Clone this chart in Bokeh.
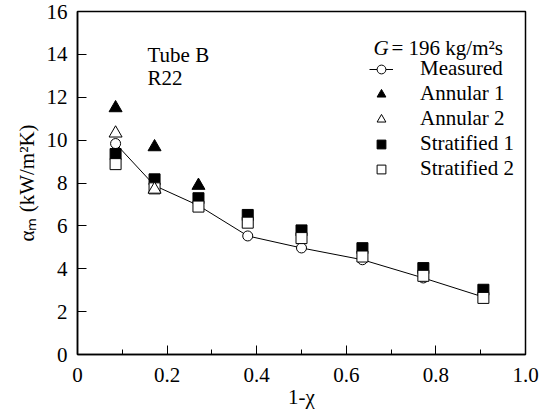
from bokeh.plotting import figure
from bokeh.models import Range1d, FixedTicker, Label, Legend, LegendItem, Title
from bokeh.embed import file_html
from bokeh.resources import INLINE

# ---- data ----
x_quality = [0.085, 0.172, 0.27, 0.38, 0.5, 0.636, 0.772, 0.906]
measured = [9.84, 7.88, 6.95, 5.53, 4.97, 4.42, 3.57, 2.68]
stratified1 = [9.35, 8.17, 7.29, 6.51, 5.79, 4.96, 4.03, 3.02]
stratified2 = [8.88, 7.75, 6.90, 6.15, 5.43, 4.57, 3.67, 2.64]
x_annular1 = [0.085, 0.172, 0.27]
annular1 = [11.5, 9.68, 7.88]
x_annular2 = [0.085, 0.172]
annular2 = [10.32, 7.70]

x_ticks = [0, 0.2, 0.4, 0.6, 0.8, 1.0]
x_tick_labels = ["0", "0.2", "0.4", "0.6", "0.8", "1.0"]
x_minor_ticks = [0.1, 0.3, 0.5, 0.7, 0.9]
y_ticks = [0, 2, 4, 6, 8, 10, 12, 14, 16]

FONT = "'Liberation Serif', 'Times New Roman', serif"
FS = "21px"

p = figure(width=539, height=414, x_range=Range1d(0, 1), y_range=Range1d(0, 16),
           output_backend="svg", toolbar_location=None,
           min_border_left=77, min_border_right=14, min_border_top=11, min_border_bottom=60)
p.background_fill_color = "white"
p.border_fill_color = "white"
p.outline_line_color = "black"
p.outline_line_width = 1.5
p.xgrid.visible = False
p.ygrid.visible = False

for ax in (p.xaxis, p.yaxis):
    ax.axis_line_width = 1.5
    ax.axis_line_color = "black"
    ax.major_tick_line_color = "black"
    ax.minor_tick_line_color = "black"
    ax.major_tick_in = 9
    ax.major_tick_out = 0
    ax.major_label_text_font = FONT
    ax.major_label_text_font_size = FS
    ax.major_label_text_color = "black"

p.xaxis.ticker = FixedTicker(ticks=x_ticks, minor_ticks=x_minor_ticks)
p.xaxis.major_label_overrides = {t: l for t, l in zip(x_ticks, x_tick_labels)}
p.xaxis.minor_tick_in = 5
p.xaxis.minor_tick_out = 0
p.xaxis.major_label_standoff = 13
p.xaxis.axis_label = "1-χ"
p.xaxis.axis_label_text_font = FONT
p.xaxis.axis_label_text_font_size = FS
p.xaxis.axis_label_text_font_style = "normal"
p.xaxis.axis_label_text_color = "black"
p.xaxis.axis_label_standoff = 0

p.yaxis.ticker = FixedTicker(ticks=y_ticks, minor_ticks=[])
p.yaxis.minor_tick_line_color = None
p.yaxis.major_label_standoff = 10

# y-axis title (left panel, shifted upward like the reference)
p.add_layout(Title(text="αₘ (kW/m²K)", align="center", offset=45,
                   text_font=FONT, text_font_size=FS, text_font_style="normal",
                   text_color="black"), "left")

# ---- data marks ----
r_line = p.line(x_quality, measured, line_color="black", line_width=1)
r_meas = p.scatter(x_quality, measured, marker="circle", size=10,
                   fill_color="white", line_color="black", line_width=1)
r_s1 = p.scatter(x_quality, stratified1, marker="square", size=11,
                 fill_color="black", line_color="black", line_width=1)
r_s2 = p.scatter(x_quality, stratified2, marker="square", size=11,
                 fill_color="white", line_color="black", line_width=1)
r_a1 = p.scatter(x_annular1, annular1, marker="triangle", size=13,
                 fill_color="black", line_color="black", line_width=1)
r_a2 = p.scatter(x_annular2, annular2, marker="triangle", size=13,
                 fill_color="white", line_color="black", line_width=1)

legend = Legend(items=[
    LegendItem(label="Measured", renderers=[r_line, r_meas]),
    LegendItem(label="Annular 1", renderers=[r_a1]),
    LegendItem(label="Annular 2", renderers=[r_a2]),
    LegendItem(label="Stratified 1", renderers=[r_s1]),
    LegendItem(label="Stratified 2", renderers=[r_s2]),
], location=(292, 173), padding=0, margin=0, spacing=-1,
    glyph_width=24, glyph_height=22, label_height=22, label_standoff=27,
    label_text_font=FONT, label_text_font_size=FS, label_text_color="black",
    label_text_line_height=1.0,
    border_line_color=None, background_fill_alpha=0)
p.add_layout(legend, "center")

# ---- texts inside the frame (screen units relative to the frame's lower-left corner) ----
def lab(text, x, y, style="normal"):
    p.add_layout(Label(x=x, y=y, x_units="screen", y_units="screen", text=text,
                       text_font=FONT, text_font_size=FS, text_font_style=style,
                       text_color="black", text_align="left", text_baseline="alphabetic"))

lab("G", 296, 307, style="italic")
lab("= 196 kg/m²s", 314, 307)
lab("Tube B", 70, 300)
lab("R22", 70, 277)

open("out.html", "w").write(file_html(p, INLINE))
